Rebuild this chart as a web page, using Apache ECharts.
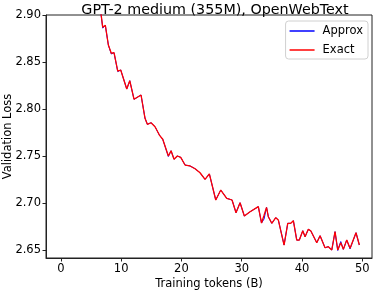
<!DOCTYPE html>
<html><head><meta charset="utf-8">
<script src="https://cdn.jsdelivr.net/npm/echarts@6/dist/echarts.min.js"></script>
<style>html,body{margin:0;padding:0;background:#fff}#c{width:374px;height:290px}</style>
</head><body><div id="c"></div>
<script>
const tokens = [5.9,6.58,6.95,7.38,7.88,8.37,8.82,9.44,9.93,10.93,11.43,12.14,13.30,13.96,14.35,14.96,15.62,16.34,16.90,17.83,18.28,18.77,19.32,19.88,20.60,21.43,22.26,23.08,23.91,24.63,25.69,26.52,27.51,28.39,29.05,29.72,30.43,31.38,32.75,33.28,33.70,34.11,34.41,34.98,35.64,36.07,37.02,37.63,38.13,38.56,39.12,39.55,40.12,40.50,41.04,41.44,41.77,42.44,42.99,43.81,44.36,44.93,45.47,45.92,46.42,46.85,47.41,47.96,48.95,49.50];
const exactLoss = [2.95,2.9053,2.8869,2.8890,2.8681,2.8593,2.8599,2.8404,2.8415,2.8213,2.8301,2.8103,2.8149,2.7901,2.7837,2.7854,2.7812,2.7723,2.7678,2.7500,2.7556,2.7465,2.7500,2.7486,2.7404,2.7394,2.7365,2.7322,2.7252,2.7309,2.7032,2.7138,2.7050,2.7032,2.6897,2.7003,2.6862,2.6907,2.6961,2.6787,2.6870,2.6954,2.6854,2.6784,2.6844,2.6819,2.6553,2.6784,2.6784,2.6812,2.6606,2.6606,2.6705,2.6641,2.6720,2.6705,2.6720,2.6578,2.6652,2.6524,2.6535,2.6500,2.6695,2.6500,2.6578,2.6507,2.6606,2.6518,2.6684,2.6553];
const approxLoss = [2.95,2.9053,2.8860,2.8890,2.8681,2.8585,2.8599,2.8398,2.8415,2.8213,2.8301,2.8103,2.8149,2.7901,2.7837,2.7854,2.7812,2.7723,2.7678,2.7495,2.7556,2.7465,2.7500,2.7486,2.7404,2.7394,2.7365,2.7322,2.7252,2.7309,2.7032,2.7138,2.7050,2.7032,2.6897,2.7003,2.6862,2.6907,2.6961,2.6787,2.6830,2.6954,2.6854,2.6784,2.6844,2.6819,2.6553,2.6784,2.6784,2.6812,2.6606,2.6606,2.6705,2.6641,2.6720,2.6705,2.6720,2.6578,2.6652,2.6524,2.6535,2.6500,2.6695,2.6495,2.6590,2.6507,2.6606,2.6512,2.6684,2.6553];
const xTicks = [0,10,20,30,40,50];
const yTicks = [2.65,2.70,2.75,2.80,2.85,2.90];
const seriesNames = ['Approx','Exact'];

const font = 'DejaVu Sans';
const chart = echarts.init(document.getElementById('c'), null, {renderer:'canvas'});
const pair = (ys) => tokens.map((x,i)=>[x, ys[i]]);
chart.setOption({
  animation:false,
  title:{text:'GPT-2 medium (355M), OpenWebText',left:210,textAlign:'center',top:-2,
    textStyle:{fontFamily:font,fontSize:14.3,fontWeight:'normal',color:'#000'}},
  grid:{left:46,right:2,top:15,bottom:32,show:true,borderColor:'#222',borderWidth:1,backgroundColor:'transparent',
    containLabel:false,outerBoundsMode:'none'},
  legend:{data:seriesNames,orient:'vertical',right:6,top:21,itemWidth:25,itemHeight:1.5,itemGap:7,
    icon:'rect',backgroundColor:'#fff',borderColor:'#d0d0d0',borderWidth:1,borderRadius:3,padding:[4,5,3,4],
    textStyle:{fontFamily:font,fontSize:11.5,color:'#000',padding:[0,0,0,3]}},
  xAxis:{type:'value',min:-2.46,max:51.6,name:'Training tokens (B)',nameLocation:'middle',nameGap:20,nameMoveOverlap:false,
    nameTextStyle:{fontFamily:font,fontSize:11.5,color:'#000'},
    axisLine:{show:true,onZero:false,lineStyle:{color:'#222',width:1}},splitLine:{show:false},
    axisTick:{show:true,inside:false,customValues:xTicks,length:3.5,lineStyle:{color:'#222'}},
    axisLabel:{customValues:xTicks,fontFamily:font,fontSize:11.5,color:'#000',margin:5}},
  yAxis:{type:'value',min:2.6415,max:2.90,name:'Validation Loss',nameLocation:'middle',nameGap:32,nameMoveOverlap:false,
    nameTextStyle:{fontFamily:font,fontSize:11.5,color:'#000'},
    axisLine:{show:true,onZero:false,lineStyle:{color:'#222',width:1}},splitLine:{show:false},
    axisTick:{show:true,inside:false,customValues:yTicks,length:3.5,lineStyle:{color:'#222'}},
    axisLabel:{customValues:yTicks,fontFamily:font,fontSize:11.5,color:'#000',margin:5,formatter:v=>v.toFixed(2)}},
  series:[
    {name:'Approx',type:'line',data:pair(approxLoss),showSymbol:false,clip:true,lineStyle:{color:'#0000ff',width:1},itemStyle:{color:'#0000ff'}},
    {name:'Exact',type:'line',data:pair(exactLoss),showSymbol:false,clip:true,lineStyle:{color:'#ff0000',width:1.3},itemStyle:{color:'#ff0000'}}
  ]
});
</script></body></html>
